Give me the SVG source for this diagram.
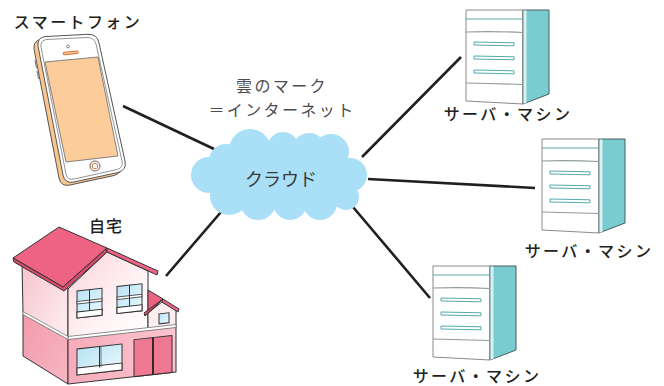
<svg xmlns="http://www.w3.org/2000/svg" xmlns:xlink="http://www.w3.org/1999/xlink" width="664" height="386" viewBox="0 0 664 386">
  <defs>
    <style>
      .label { font-family: "Noto Sans CJK JP", "Noto Sans", sans-serif; font-size: 16px; font-weight: 500; fill: #231f20; text-anchor: middle; letter-spacing: 2.4px; }
      .note { font-family: "Noto Sans CJK JP", "Noto Sans", sans-serif; font-size: 16px; fill: #4d4d4d; text-anchor: middle; letter-spacing: 2.4px; }
      .cloud-text { font-family: "Noto Sans CJK JP", "Noto Sans", sans-serif; font-size: 18px; fill: #3a3a3a; text-anchor: middle; }
      .link { stroke: #231f20; stroke-width: 2.6; fill: none; }
      .ol { stroke: #333; stroke-width: 1; stroke-linejoin: round; }
      .win { fill: url(#glass); stroke: #333; stroke-width: 1; }
      .slot { fill: #ffffff; stroke: #3f9fa3; stroke-width: 0.9; }
    </style>
    <linearGradient id="glass" x1="0" y1="0" x2="1" y2="1">
      <stop offset="0" stop-color="#b9e3f5"/>
      <stop offset="1" stop-color="#eaf8fd"/>
    </linearGradient>
    <linearGradient id="upperFront" x1="0" y1="0" x2="1" y2="1">
      <stop offset="0" stop-color="#fbd3dc"/>
      <stop offset="0.6" stop-color="#fff3f5"/>
      <stop offset="1" stop-color="#ffffff"/>
    </linearGradient>
    <linearGradient id="upperSide" x1="0" y1="0" x2="1" y2="1">
      <stop offset="0" stop-color="#f6c3cd"/>
      <stop offset="1" stop-color="#fdf0f2"/>
    </linearGradient>
    <linearGradient id="lowerSide" x1="0" y1="0" x2="1" y2="1">
      <stop offset="0" stop-color="#f29aac"/>
      <stop offset="1" stop-color="#f7b6c3"/>
    </linearGradient>
    <linearGradient id="lowerFront" x1="0" y1="0" x2="1" y2="0">
      <stop offset="0" stop-color="#f6abba"/>
      <stop offset="1" stop-color="#f9c5cf"/>
    </linearGradient>

    <!-- server cabinet, front face origin at top-left -->
    <g id="server">
      <polygon points="0,0 57,0 57,94 0,91" fill="#ffffff" stroke="#8a8a8a" stroke-width="1"/>
      <polygon points="57,0 83,0 83,84 57,94" fill="#79cdd0" stroke="#4a5b5c" stroke-width="1"/>
      <polygon points="57.5,0.5 60.5,0.5 60.5,93 57.5,93.8" fill="#d8f1f2"/>
      <line x1="0" y1="9" x2="57" y2="9" stroke="#5fa6a8" stroke-width="1.2"/>
      <path d="M0,22 Q28,21 57,22.5" stroke="#8f9a9a" stroke-width="1.1" fill="none"/>
      <path class="slot" d="M8,32 L48,32.8 L48,35.8 L8,35 Z"/>
      <path class="slot" d="M8,46 L48,46.8 L48,49.8 L8,49 Z"/>
      <path class="slot" d="M8,60 L48,60.8 L48,63.8 L8,63 Z"/>
      <path d="M0,73 Q28,73.5 57,74.5" stroke="#8f9a9a" stroke-width="1.1" fill="none"/>
    </g>
  </defs>

  <rect width="664" height="386" fill="#ffffff"/>

  <!-- connectors -->
  <g id="connectors">
    <line class="link" x1="123" y1="106" x2="214" y2="149"/>
    <line class="link" x1="166" y1="276" x2="221" y2="212"/>
    <line class="link" x1="362" y1="157" x2="461" y2="57"/>
    <line class="link" x1="368" y1="179" x2="535" y2="188"/>
    <line class="link" x1="353" y1="207" x2="430" y2="298"/>
  </g>

  <!-- smartphone -->
  <g id="smartphone">
    <path d="M46,36.5 L88,34.3 Q97,34 99,43 L125,161 Q127,170 118,172.5 L74,182 Q65,184 63,175 L38,46 Q37,37 46,36.5 Z" transform="translate(-4,3)" fill="#fbc58e" stroke="#555" stroke-width="1"/>
    <path d="M46,36.5 L88,34.3 Q97,34 99,43 L125,161 Q127,170 118,172.5 L74,182 Q65,184 63,175 L38,46 Q37,37 46,36.5 Z" fill="#ffffff" stroke="#555" stroke-width="1"/>
    <path d="M47,39.5 L87,37.5 Q94,37.2 96,44 L122,161 Q123.5,168 117,169.5 L74,179 Q67,180.5 66,174 L41,47 Q40,40 47,39.5 Z" fill="none" stroke="#777" stroke-width="0.8"/>
    <line x1="35" y1="60" x2="36.5" y2="68" stroke="#555" stroke-width="0.8"/>
    <line x1="37" y1="71" x2="38.5" y2="79" stroke="#555" stroke-width="0.8"/>
    <polygon points="45,62 98,57 118,156 66,162" fill="#fdcc9b" stroke="#666" stroke-width="0.8"/>
    <line x1="64.5" y1="53.5" x2="77" y2="52.3" stroke="#d9723a" stroke-width="3.4" stroke-linecap="round"/>
    <line x1="64.5" y1="53.5" x2="77" y2="52.3" stroke="#fbc58e" stroke-width="1.6" stroke-linecap="round"/>
    <circle cx="68" cy="46.5" r="1.4" fill="none" stroke="#666" stroke-width="0.8"/>
    <circle cx="95" cy="166" r="5" fill="#ffffff" stroke="#555" stroke-width="0.9"/>
    <rect x="92.5" y="163.5" width="5" height="5" rx="1.3" fill="none" stroke="#e07a3a" stroke-width="1"/>
    <text class="label" x="78" y="27.5">スマートフォン</text>
  </g>

  <!-- house -->
  <g id="house">
    <!-- side walls -->
    <polygon class="ol" points="22,263 68,289 68,339 23,313" fill="url(#upperSide)"/>
    <polygon class="ol" points="23,314 68,339 68,384 23,356" fill="url(#lowerSide)"/>
    <!-- front upper wall (gable) -->
    <polygon class="ol" points="68,289 107,252 148,271 148,330 68,339" fill="url(#upperFront)"/>
    <!-- annex wall -->
    <polygon class="ol" points="148,313 162,302 176,310 176,327 148,330" fill="#fdeef1"/>
    <!-- front face details, drawn in the front-wall plane -->
    <g transform="translate(68,340) skewY(-6.34)">
      <rect class="ol" x="0" y="-1" width="108" height="45" fill="url(#lowerFront)"/>
      <!-- upper windows -->
      <rect class="win" x="9" y="-48" width="25" height="27"/>
      <rect x="9" y="-27" width="25" height="6" fill="#ffffff" stroke="#333" stroke-width="1"/>
      <rect x="9" y="-37.5" width="25" height="2.5" fill="#ffffff" stroke="#333" stroke-width="0.8"/>
      <line x1="21.5" y1="-48" x2="21.5" y2="-27" stroke="#333" stroke-width="1"/>
      <rect class="win" x="49" y="-48" width="25" height="27"/>
      <rect x="49" y="-27" width="25" height="6" fill="#ffffff" stroke="#333" stroke-width="1"/>
      <rect x="49" y="-37.5" width="25" height="2.5" fill="#ffffff" stroke="#333" stroke-width="0.8"/>
      <line x1="61.5" y1="-48" x2="61.5" y2="-27" stroke="#333" stroke-width="1"/>
      <!-- annex window -->
      <rect class="win" x="91" y="-16" width="10" height="10"/>
      <!-- lower window -->
      <rect class="win" x="9" y="10" width="45" height="26"/>
      <rect x="9" y="29" width="45" height="7" fill="#ffffff" stroke="#333" stroke-width="1"/>
      <line x1="31.5" y1="10" x2="31.5" y2="31" stroke="#333" stroke-width="1"/>
      <line x1="33" y1="10" x2="33" y2="31" stroke="#333" stroke-width="0.6"/>
      <!-- door -->
      <rect class="ol" x="66" y="7" width="38" height="37" fill="#ef7892"/>
      <line x1="85" y1="7" x2="85" y2="44" stroke="#231f20" stroke-width="1.8"/>
      <!-- floor band -->
      <rect x="0" y="-3.5" width="108" height="3" fill="#ffffff" stroke="#777" stroke-width="0.8"/>
    </g>
    <!-- side floor band -->
    <polygon points="23,311.5 68,336.5 68,339.5 23,314.5" fill="#ffffff" stroke="#777" stroke-width="0.8"/>
    <!-- main roof -->
    <polygon class="ol" points="13,258 59,227 107,248 63,287" fill="#ee6383"/>
    <polygon class="ol" points="13,258 63,287 107,248 107,252 64,291 14,262" fill="#d94b6d"/>
    <polygon class="ol" points="107,248 158,271 157,275 107,252" fill="#ee6383"/>
    <!-- annex roof -->
    <polygon class="ol" points="148,290 163,299 145,316 148,309" fill="#ee6383"/>
    <polygon class="ol" points="163,299 179,309 178,312 162,302" fill="#ee6383"/>
    <polygon class="ol" points="163,299 145,316 144,313" fill="#d94b6d"/>
    <text class="label" x="106" y="232" style="letter-spacing:1px">自宅</text>
  </g>

  <!-- cloud -->
  <g id="cloud">
    <g fill="#a9dff7">
      <ellipse cx="280" cy="177" rx="72" ry="30"/>
      <circle cx="250" cy="150" r="21"/>
      <circle cx="283" cy="148" r="16"/>
      <circle cx="309" cy="150" r="17"/>
      <circle cx="331" cy="152" r="18"/>
      <circle cx="350" cy="175" r="17"/>
      <circle cx="346" cy="197" r="13"/>
      <circle cx="320" cy="203" r="17"/>
      <circle cx="290" cy="203" r="17"/>
      <circle cx="258" cy="202" r="18"/>
      <circle cx="229" cy="196" r="19"/>
      <circle cx="209" cy="175" r="18"/>
      <circle cx="226" cy="161" r="17"/>
    </g>
    <text class="cloud-text" x="281" y="186">クラウド</text>
  </g>

  <!-- caption above the cloud -->
  <g id="caption">
    <text class="note" x="282" y="92">雲のマーク</text>
    <text class="note" x="282" y="116">＝インターネット</text>
  </g>

  <!-- servers -->
  <g id="server1">
    <use xlink:href="#server" href="#server" x="466" y="10"/>
    <text class="label" x="508" y="120">サーバ・マシン</text>
  </g>
  <g id="server2">
    <use xlink:href="#server" href="#server" x="542" y="139"/>
    <text class="label" x="589" y="257">サーバ・マシン</text>
  </g>
  <g id="server3">
    <use xlink:href="#server" href="#server" x="433" y="266"/>
    <text class="label" x="477" y="382">サーバ・マシン</text>
  </g>
</svg>
